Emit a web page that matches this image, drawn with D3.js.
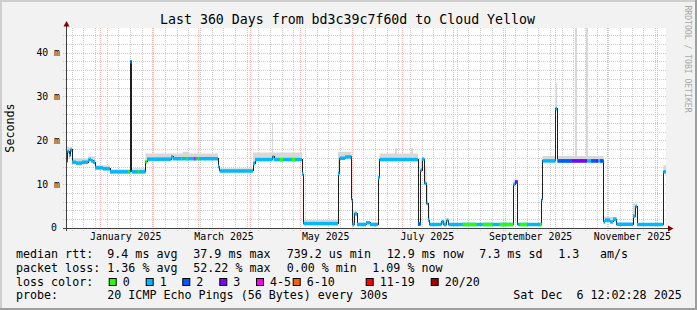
<!DOCTYPE html>
<html>
<head>
<meta charset="utf-8">
<script src="https://cdn.jsdelivr.net/npm/d3@7"></script>
<style>
  body { margin: 0; background: #f2f2f2; }
  svg { display: block; }
  text { font-family: "DejaVu Sans Mono", monospace; white-space: pre; }
</style>
</head>
<body>
<div id="chart"></div>
<script>
const width = 697, height = 310;

const startTime = new Date(2024, 11, 11, 12, 2, 28);
const endTime = new Date(2025, 11, 6, 12, 2, 28);

// median rtt as steps: day offset from start -> ms
const days = [0, 0.9, 1.8, 2.7, 3.6, 6, 9.6, 13.2, 14.1, 15, 16.2, 17.4, 22.2, 26.4, 38.7, 39.4,
  47.7, 48.6, 63, 64.2, 91.2, 92.1, 112.2, 113.4, 123.9, 124.8, 141.6, 142.5, 163.2, 164.1,
  167.4, 171.3, 171.9, 173.1, 174.6, 180, 182.4, 187.2, 188.1, 211.2, 212.7, 213.6, 215.1,
  216.3, 217.2, 218.1, 225.3, 226.5, 228.3, 229.5, 268.4, 269.4, 271, 285.3, 285.9, 293.7,
  294.6, 322.5, 323.4, 326.4, 328.2, 330.3, 340.2, 341.7, 342.6, 358.4, 360];
const medianMs = [15.2, 17.5, 16.5, 17.8, 15.0, 14.8, 15.0, 15.5, 15.7, 15.3, 15.0, 13.7, 13.5, 12.8, 37.9, 12.8,
  15.1, 15.7, 16.2, 15.8, 14.0, 13.0, 14.7, 15.6, 16.2, 15.6, 12.3, 1.0, 12.4, 15.9,
  16.2, 6.4, 0.8, 3.2, 0.8, 1.2, 0.8, 11.5, 15.6, 0.9, 13.2, 15.7, 10.2,
  5.6, 1.8, 0.8, 1.4, 0.8, 1.8, 0.8, 10.0, 10.5, 0.8, 6.4, 15.3, 27.2,
  15.3, 1.4, 1.8, 1.4, 2.0, 0.85, 2.7, 4.9, 0.8, 12.8, 12.8];

// upper edge of the smoke (max ping), steps
const smokeDays = [0, 3.6, 13.2, 17.4, 26.4, 38.7, 39.4, 47.7, 70, 74, 91.2, 92.1, 112.2, 123.6, 124.2,
  141.6, 142.5, 163.2, 171.3, 172.2, 174.6, 187.2, 188.1, 197.4, 198.6, 207, 208.2, 211.2, 212.7,
  215.1, 216.3, 217.2, 218.1, 225.3, 229.5, 268.4, 271, 285.3, 285.9, 293.7, 294.6, 305.4, 306.6,
  312, 313.2, 322.5, 330.3, 340.2, 342.6, 358.4, 360];
const smokeTopMs = [18.5, 15.9, 16.3, 14.3, 13.4, 37.9, 13.6, 17.0, 17.4, 17.0, 14.0, 13.6, 17.2, 24.0, 17.2,
  12.3, 1.9, 17.4, 6.4, 4.0, 1.2, 11.5, 17.0, 18.2, 17.0, 18.2, 17.0, 1.5, 16.0,
  14.0, 10.0, 5.0, 1.1, 1.9, 1.1, 11.0, 1.1, 6.4, 16.4, 33.0, 16.4, 46, 16.4,
  46, 16.4, 2.5, 1.2, 5.6, 1.1, 14.3, 14.3];

// loss colour of the median where it is not "1"
const lossStart = [37.2, 38.7, 43.2, 47.7, 69.2, 72.2, 76.8, 79.2, 128.4, 135.4, 211.2,
  238, 250, 260, 269.4, 272.4, 284.4, 295.2, 303.6, 315, 318, 320.4];
const lossEnd = [37.8, 39.4, 43.8, 48.6, 69.8, 73, 77.6, 79.8, 130.2, 137.4, 212.7,
  246.4, 256, 268.4, 271, 276.6, 285.3, 303.6, 312.6, 318, 319.2, 322.5];
const lossClass = [0, 2, 0, 0, 0, 0, 4, 0, 0, 0, 2,
  0, 0, 0, 3, 0, 0, 2, 3, 2, 3, 2];

const lossColors = ["#26ff00", "#00b8ff", "#0059ff", "#7e00ff", "#ff00ea", "#ff5e00", "#ff0000", "#a10000"];
const lossLabels = ["0", "1", "2", "3", "4-5", "6-10", "11-19", "20/20"];

const yTicks = [0, 10, 20, 30, 40];
const monthTicks = [new Date(2025, 0, 16), new Date(2025, 2, 16), new Date(2025, 4, 16),
  new Date(2025, 6, 16), new Date(2025, 8, 16), new Date(2025, 10, 16)];

const statRows = [
  [[16, "median rtt:"], [107.3, "9.4 ms avg"], [193.3, "37.9 ms max"], [286.7, "739.2 us min"],
   [386.7, "12.9 ms now"], [479.3, "7.3 ms sd"], [558.3, "1.3"], [600, "am/s"]],
  [[16, "packet loss:"], [107.3, "1.36 % avg"], [193.3, "52.22 % max"], [286.7, "0.00 % min"],
   [372.3, "1.09 % now"]],
  [[16, "loss color:"]],
  [[16, "probe:"], [107.3, "20 ICMP Echo Pings (56 Bytes) every 300s"], [513.3, "Sat Dec  6 12:02:28 2025"]]
];
const swatchX = [108.7, 145.7, 182.3, 219.3, 256, 292.7, 365.7, 430.7];

const dayMs = 86400000;
const toDate = d => new Date(+startTime + d * dayMs);

const x = d3.scaleTime().domain([startTime, endTime]).range([66, 666]);
const y = d3.scaleLinear().domain([0, 45.6]).range([228, 28]);

const svg = d3.select("#chart").append("svg")
    .attr("width", width)
    .attr("height", height);

// background + frame
svg.append("rect").attr("width", width).attr("height", height).attr("fill", "#f2f2f2");
svg.append("rect").attr("width", width).attr("height", 2).attr("fill", "#cfcfcf");
svg.append("rect").attr("width", 2).attr("height", height).attr("fill", "#cfcfcf");
svg.append("rect").attr("y", height - 2).attr("width", width).attr("height", 2).attr("fill", "#9e9e9e");
svg.append("rect").attr("x", width - 2).attr("width", 2).attr("height", height).attr("fill", "#9e9e9e");

svg.append("rect").attr("x", 66).attr("y", 28).attr("width", 600).attr("height", 200).attr("fill", "#ffffff");

svg.append("defs").append("clipPath").attr("id", "canvas")
  .append("rect").attr("x", 66).attr("y", 28).attr("width", 600).attr("height", 200);

// grid
const grid = svg.append("g").attr("shape-rendering", "crispEdges").attr("stroke-dasharray", "1,1");
const minorY = d3.range(2, 46, 2).filter(v => v % 10 !== 0);
grid.selectAll(".hmin").data(minorY).join("line")
    .attr("x1", 63).attr("x2", 666)
    .attr("y1", d => Math.round(y(d)) + 0.5).attr("y2", d => Math.round(y(d)) + 0.5)
    .attr("stroke", "#cccccc");
grid.selectAll(".vmin").data(d3.timeSunday.range(startTime, endTime)).join("line")
    .attr("x1", d => Math.round(x(d)) + 0.5).attr("x2", d => Math.round(x(d)) + 0.5)
    .attr("y1", 28).attr("y2", 231)
    .attr("stroke", "#cccccc");
grid.selectAll(".hmaj").data(yTicks.filter(v => v > 0)).join("line")
    .attr("x1", 63).attr("x2", 666)
    .attr("y1", d => Math.round(y(d)) + 0.5).attr("y2", d => Math.round(y(d)) + 0.5)
    .attr("stroke", "#f6b4b4");
grid.selectAll(".vmaj").data(d3.timeMonth.range(startTime, endTime)).join("line")
    .attr("x1", d => Math.round(x(d)) + 0.5).attr("x2", d => Math.round(x(d)) + 0.5)
    .attr("y1", 28).attr("y2", 231)
    .attr("stroke", "#f6b4b4");

// smoke
const medianAt = d => medianMs[Math.max(0, d3.bisectRight(days, d) - 1)];
const smokeAt = d => smokeTopMs[Math.max(0, d3.bisectRight(smokeDays, d) - 1)];
const smokeKeys = Array.from(new Set(days.concat(smokeDays))).sort((a, b) => a - b);

const plot = svg.append("g").attr("clip-path", "url(#canvas)");

plot.append("path")
    .datum(smokeKeys)
    .attr("fill", "#d8d8d8")
    .attr("d", d3.area()
        .x(d => x(toDate(d)))
        .y0(d => y(medianAt(d) - 0.3))
        .y1(d => y(Math.max(smokeAt(d), medianAt(d))))
        .curve(d3.curveStepAfter));

// median line
plot.append("path")
    .datum(days.map((d, i) => [d, medianMs[i]]))
    .attr("fill", "none")
    .attr("stroke", "#202020")
    .attr("stroke-width", 1)
    .attr("shape-rendering", "crispEdges")
    .attr("d", d3.line()
        .x(d => x(toDate(d[0])))
        .y(d => y(d[1]))
        .curve(d3.curveStepAfter));

// loss coloured median band
const bandH = 3.5;
plot.append("g").selectAll("rect")
    .data(days.slice(0, -1))
    .join("rect")
    .attr("x", d => x(toDate(d)))
    .attr("width", (d, i) => x(toDate(days[i + 1])) - x(toDate(d)))
    .attr("y", (d, i) => y(medianMs[i]) - bandH / 2)
    .attr("height", bandH)
    .attr("fill", lossColors[1]);

plot.append("g").selectAll("rect")
    .data(lossStart)
    .join("rect")
    .attr("x", d => x(toDate(d)))
    .attr("width", (d, i) => x(toDate(lossEnd[i])) - x(toDate(d)))
    .attr("y", d => y(medianAt(d)) - bandH / 2)
    .attr("height", bandH)
    .attr("fill", (d, i) => lossColors[lossClass[i]]);

// axes
const axisCol = "#404040";
svg.append("line").attr("x1", 66.5).attr("x2", 66.5).attr("y1", 231).attr("y2", 24)
    .attr("stroke", axisCol).attr("shape-rendering", "crispEdges");
svg.append("line").attr("x1", 63).attr("x2", 670).attr("y1", 228.5).attr("y2", 228.5)
    .attr("stroke", axisCol).attr("shape-rendering", "crispEdges");
svg.append("path").attr("d", "M63.5,26.5L69.5,26.5L66.5,21Z").attr("fill", "#7f0000");
svg.append("path").attr("d", "M668,225.5L668,231.5L673.5,228.5Z").attr("fill", "#7f0000");

svg.append("g").selectAll("text")
    .data(yTicks)
    .join("text")
    .attr("x", d => d === 0 ? 57 : 60)
    .attr("y", d => y(d))
    .attr("dy", "0.35em")
    .attr("text-anchor", "end")
    .style("font-size", "9.8px")
    .text(d => d === 0 ? "0" : d + " m");

const xAxis = svg.append("g")
    .attr("transform", "translate(0,229)")
    .call(d3.axisBottom(x).tickValues(monthTicks).tickSize(0).tickPadding(0).tickFormat(d3.timeFormat("%B %Y")));
xAxis.select(".domain").remove();
xAxis.selectAll("text")
    .attr("y", 11)
    .attr("dy", 0)
    .attr("fill", "#000")
    .style("font-family", "'DejaVu Sans Mono', monospace")
    .style("font-size", "9.9px");

// titles
svg.append("text")
    .attr("x", 347.5).attr("y", 23.5)
    .attr("text-anchor", "middle")
    .style("font-size", "13.25px")
    .text("Last 360 Days from bd3c39c7f60d to Cloud Yellow");

svg.append("text")
    .attr("transform", "translate(10,128) rotate(-90)")
    .attr("text-anchor", "middle")
    .attr("dy", "0.35em")
    .style("font-size", "11.7px")
    .text("Seconds");

svg.append("text")
    .attr("transform", "translate(687.7,59) rotate(90)")
    .attr("text-anchor", "middle")
    .attr("dy", "0.35em")
    .attr("fill", "#a8a8a8")
    .style("font-size", "8.1px")
    .text("RRDTOOL / TOBI OETIKER");

// legend block
const rowY = [258, 271.8, 285.6, 299.4];
statRows.forEach((row, r) => {
  svg.append("g").selectAll("text")
      .data(row)
      .join("text")
      .attr("x", d => d[0])
      .attr("y", rowY[r])
      .style("font-size", "11.66px")
      .text(d => d[1]);
});

const sw = svg.append("g").selectAll("g")
    .data(lossLabels)
    .join("g");
sw.append("rect")
    .attr("x", (d, i) => swatchX[i] + 0.5)
    .attr("y", 278.5)
    .attr("width", 7)
    .attr("height", 7)
    .attr("fill", (d, i) => lossColors[i])
    .attr("stroke", "#000");
sw.append("text")
    .attr("x", (d, i) => swatchX[i] + 14)
    .attr("y", rowY[2])
    .style("font-size", "11.66px")
    .text(d => d);
</script>
</body>
</html>
